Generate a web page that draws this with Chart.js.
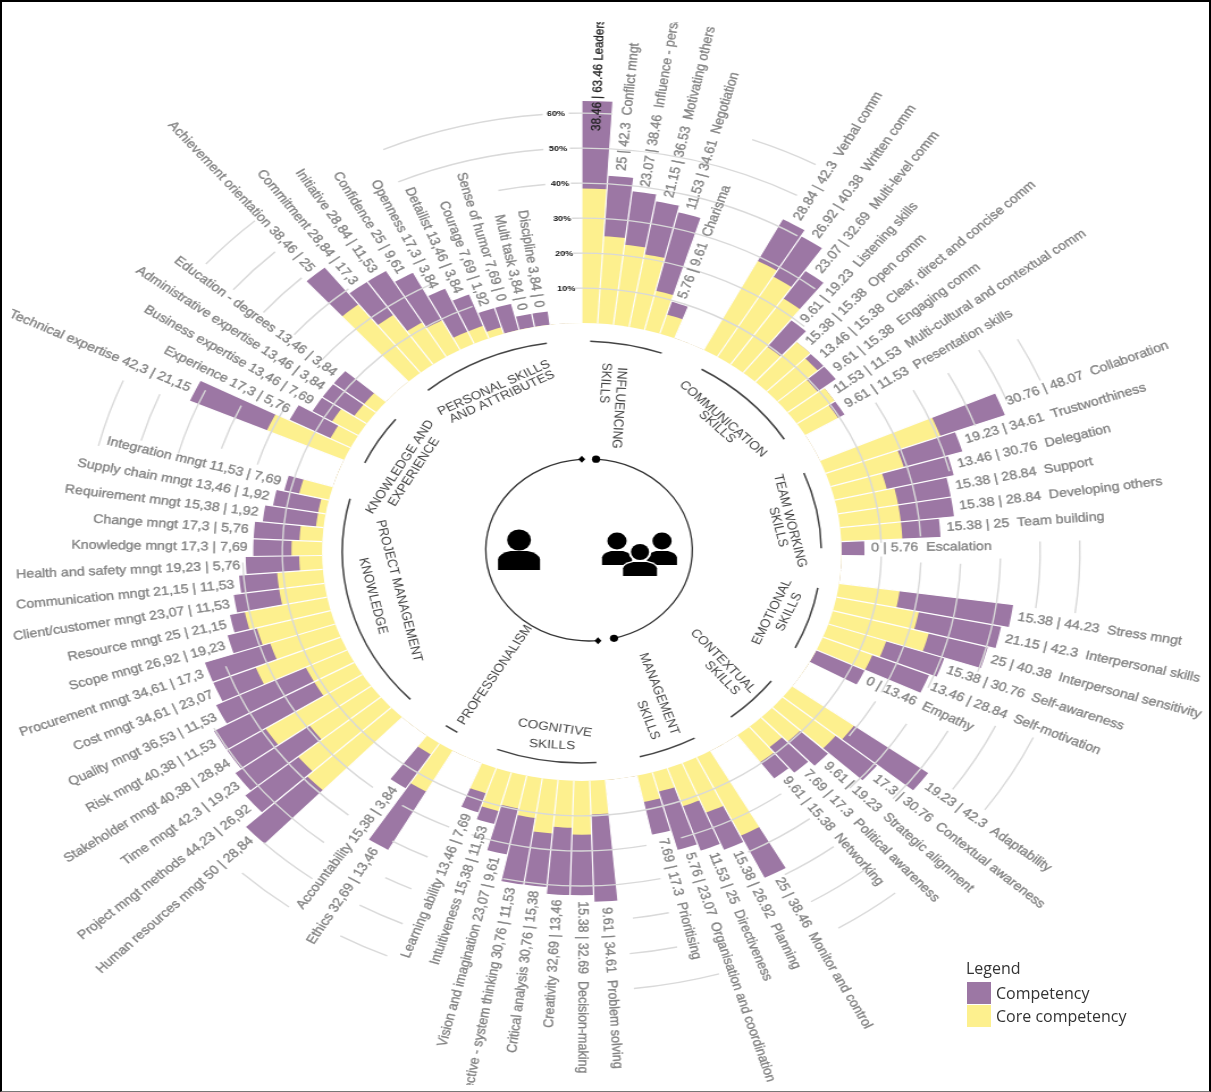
<!DOCTYPE html>
<html>
<head>
<meta charset="utf-8">
<title>Competency wheel</title>
<script src="https://cdn.jsdelivr.net/npm/chart.js@4"></script>
<style>
  html, body { margin: 0; padding: 0; background: #fff; }
  #page { position: relative; width: 1211px; height: 1092px; overflow: hidden; background: #fff; }
  #frame { position: absolute; left: 0; top: 0; width: 1211px; height: 1092px; box-sizing: border-box; border-style: solid; border-color: #000 #000 #777 #000; border-width: 2px 2px 1px 2px; pointer-events: none; }
  /* the source picture is wider than it is tall and soft, so the whole wheel gets stretched */
  #wheel { position: absolute; left: 0; top: 0; transform-origin: 0 0; transform: translateX(-47px) scaleX(1.135); filter: blur(0.45px); }
  #legend { position: absolute; left: 966px; top: 957px; font: 16px "Open Sans", sans-serif; color: #333; filter: blur(0.3px); }
  #legend .row { position: absolute; left: 1px; width: 190px; height: 22px; line-height: 22px; padding-left: 29px; white-space: nowrap; }
  #legend .swatch { position: absolute; left: 0; top: 0; width: 24px; height: 22px; }
</style>
</head>
<body>
<div id="page">
  <canvas id="wheel" width="1108" height="1092"></canvas>
  <div id="legend">
    <div>Legend</div>
    <div class="row" style="top:25px"><span class="swatch" style="background:#9c77a4"></span>Competency</div>
    <div class="row" style="top:48px"><span class="swatch" style="background:#fdf08e"></span>Core competency</div>
  </div>
  <div id="frame"></div>
</div>
<script>
// bars clockwise from the top, group by group
const categories = [
  'Leadership', 'Conflict mngt', 'Influence - persuasion', 'Motivating others', 'Negotiation', 'Charisma',
  'Verbal comm', 'Written comm', 'Multi-level comm', 'Listening skills', 'Open comm', 'Clear, direct and concise comm', 'Engaging comm', 'Multi-cultural and contextual comm', 'Presentation skills',
  'Collaboration', 'Trustworthiness', 'Delegation', 'Support', 'Developing others', 'Team building', 'Escalation',
  'Stress mngt', 'Interpersonal skills', 'Interpersonal sensitivity', 'Self-awareness', 'Self-motivation', 'Empathy',
  'Adaptability', 'Contextual awareness', 'Strategic alignment', 'Political awareness', 'Networking',
  'Monitor and control', 'Planning', 'Directiveness', 'Organisation and coordination', 'Prioritising',
  'Problem solving', 'Decision-making', 'Creativity', 'Critical analysis', 'Perspective - system thinking', 'Vision and imagination', 'Intuitiveness', 'Learning ability',
  'Ethics', 'Accountability',
  'Human resources mngt', 'Project mngt methods', 'Time mngt', 'Stakeholder mngt', 'Risk mngt', 'Quality mngt', 'Cost mngt', 'Procurement mngt', 'Scope mngt', 'Resource mngt', 'Client/customer mngt', 'Communication mngt', 'Health and safety mngt', 'Knowledge mngt', 'Change mngt', 'Requirement mngt', 'Supply chain mngt', 'Integration mngt',
  'Technical expertise', 'Experience', 'Business expertise', 'Administrative expertise', 'Education - degrees',
  'Achievement orientation', 'Commitment', 'Initiative', 'Confidence', 'Openness', 'Detailist', 'Courage', 'Sense of humor', 'Multi task', 'Discipline'
];
const coreValues = [
  38.46, 25, 23.07, 21.15, 11.53, 5.76,
  28.84, 26.92, 23.07, 9.61, 15.38, 13.46, 9.61, 11.53, 9.61,
  30.76, 19.23, 13.46, 15.38, 15.38, 15.38, 0,
  15.38, 21.15, 25, 15.38, 13.46, 0,
  19.23, 17.3, 9.61, 7.69, 9.61,
  25, 15.38, 11.53, 5.76, 7.69,
  9.61, 15.38, 13.46, 15.38, 11.53, 9.61, 11.53, 7.69,
  13.46, 3.84,
  28.84, 26.92, 19.23, 28.84, 11.53, 11.53, 23.07, 17.3, 19.23, 21.15, 11.53, 11.53, 5.76, 7.69, 5.76, 1.92, 1.92, 7.69,
  21.15, 5.76, 7.69, 3.84, 3.84,
  25, 17.3, 11.53, 9.61, 3.84, 3.84, 1.92, 0, 0, 0
];
const totalValues = [
  63.46, 42.3, 38.46, 36.53, 34.61, 9.61,
  42.3, 40.38, 32.69, 19.23, 15.38, 15.38, 15.38, 11.53, 11.53,
  48.07, 34.61, 30.76, 28.84, 28.84, 25, 5.76,
  44.23, 42.3, 40.38, 30.76, 28.84, 13.46,
  42.3, 30.76, 19.23, 17.3, 15.38,
  38.46, 26.92, 25, 23.07, 17.3,
  34.61, 32.69, 32.69, 30.76, 30.76, 23.07, 15.38, 13.46,
  32.69, 15.38,
  50, 44.23, 42.3, 40.38, 40.38, 36.53, 34.61, 34.61, 26.92, 25, 23.07, 21.15, 19.23, 17.3, 17.3, 15.38, 13.46, 11.53,
  42.3, 17.3, 13.46, 13.46, 13.46,
  38.46, 28.84, 28.84, 25, 17.3, 13.46, 7.69, 7.69, 3.84, 3.84
];
const groupSizes = [6, 9, 7, 6, 5, 5, 8, 2, 18, 5, 10];
const tickValues = [10, 20, 30, 40, 50, 60];
const seriesNames = ['Competency', 'Core competency'];

const STRETCH = 1.135, SHIFT = 47;
const GAP_SLOTS = 2;
const PURPLE = '#9c77a4', YELLOW = '#fdf08e';

// every group is followed by two empty slots
const labels = [], coreSlots = [], totalSlots = [], barSlot = [];
let cursor = 0;
groupSizes.forEach(size => {
  for (let i = 0; i < size; i++) {
    barSlot.push(labels.length);
    labels.push(categories[cursor]);
    coreSlots.push(coreValues[cursor]);
    totalSlots.push(totalValues[cursor]);
    cursor++;
  }
  for (let g = 0; g < GAP_SLOTS; g++) {
    labels.push('');
    coreSlots.push(0);
    totalSlots.push(0);
  }
});

// the rings are only visible in stretches, degrees clockwise from the top
const ringStretches = {
  10: [[-1.5, 88], [91, 338.6]],
  20: [[-1.5, 41], [60, 87], [92, 118], [120, 128], [144, 163], [169, 199], [203, 212], [218, 268], [287, 299], [310, 334]],
  30: [[-1.5, 38], [61, 76], [92, 114], [121, 135], [143, 154], [168, 192], [204, 210], [218, 250], [288, 296], [310.6, 322]],
  40: [[-1.5, 31], [61, 70], [91, 109], [119, 132], [143, 151], [168, 173], [204, 208], [218, 241.5], [285.5, 296], [310.5, 318], [348.5, 355]],
  50: [[-1.5, 28], [60, 68], [88.5, 98], [115.5, 126], [142, 150], [168, 174], [203, 209], [216, 224], [286, 293], [310.5, 318], [336.4, 355.2]],
  60: [[-1.5, 3.5], [20, 28], [61, 67], [88.5, 98], [115, 126], [141, 149], [164, 174], [203, 209], [216, 223], [284, 293], [311, 319], [336.5, 355.5]]
};

// group captions in picture coordinates
const groupArcs = [
  [2, 19.5], [30, 57.7], [68, 89], [99.8, 117], [127.7, 141.5], [151.9, 166],
  [176.5, 200.7], [211.3, 214.6], [225.7, 284.6], [295, 309], [320, 351.6]
];
const groupCaptions = [
  ['INFLUENCING', 619, 408, 94], ['SKILLS', 605, 383, 94],
  ['COMMUNICATION', 723, 419, 41], ['SKILLS', 717, 427, 41],
  ['TEAM WORKING', 790, 521, 75], ['SKILLS', 778, 527, 75],
  ['EMOTIONAL', 772, 612, -63], ['SKILLS', 789, 612, -63],
  ['CONTEXTUAL', 723, 661, 45], ['SKILLS', 722, 678, 45],
  ['MANAGEMENT', 659, 694, 68], ['SKILLS', 648, 720, 68],
  ['COGNITIVE', 555, 728, 8], ['SKILLS', 552, 745, 3],
  ['PROFESSIONALISM', 495, 675, -55],
  ['PROJECT MANAGEMENT', 399, 591, 75], ['KNOWLEDGE', 373, 596, 75],
  ['KNOWLEDGE AND', 400, 467, -56], ['EXPERIENCE', 414, 472, -56],
  ['PERSONAL SKILLS', 494, 388, -24], ['AND ATTRIBUTES', 502, 397, -24]
];

const imgX = x => (x + SHIFT) / STRETCH;
const imgAngle = deg => {
  const a = deg * Math.PI / 180;
  return Math.atan2(Math.sin(a), Math.cos(a) / STRETCH);
};
const clockAngle = deg => (deg - 90) * Math.PI / 180;
const commaNum = v => String(v).replace('.', ',');

function drawPerson(ctx, x, headY, headR, top, bottom, halfW) {
  ctx.beginPath();
  ctx.arc(imgX(x), headY, headR, 0, Math.PI * 2);
  ctx.fill();
  const l = imgX(x - halfW), r = imgX(x + halfW), c = imgX(x);
  const mid = top + (bottom - top) * 0.45;
  ctx.beginPath();
  ctx.moveTo(l, bottom);
  ctx.lineTo(l, mid);
  ctx.quadraticCurveTo(l + 1, top + 2, c - (c - l) * 0.4, top);
  ctx.lineTo(c + (r - c) * 0.4, top);
  ctx.quadraticCurveTo(r - 1, top + 2, r, mid);
  ctx.lineTo(r, bottom);
  ctx.closePath();
  ctx.fill();
}

const wheelPlugin = {
  id: 'wheel',
  afterDatasetsDraw(chart) {
    const ctx = chart.ctx, scale = chart.scales.r;
    const inner = scale.getDistanceFromCenterForValue(0);
    const outer = scale.getDistanceFromCenterForValue(66);
    ctx.save();
    // white lines between the bars
    ctx.strokeStyle = '#fff';
    ctx.lineWidth = 1.2;
    labels.forEach((_, i) => {
      const a = scale.getPointPosition(i, inner), b = scale.getPointPosition(i, outer);
      ctx.beginPath();
      ctx.moveTo(a.x, a.y);
      ctx.lineTo(b.x, b.y);
      ctx.stroke();
    });
    // bars start at the zero ring, not at the centre
    ctx.fillStyle = '#fff';
    ctx.beginPath();
    ctx.arc(scale.xCenter, scale.yCenter, inner, 0, Math.PI * 2);
    ctx.fill();
    ctx.restore();
  },
  afterDraw(chart) {
    const ctx = chart.ctx, scale = chart.scales.r;
    const cx = scale.xCenter, cy = scale.yCenter;
    const step = 2 * Math.PI / labels.length;
    ctx.save();

    // rings
    ctx.strokeStyle = '#d9d9d9';
    ctx.lineWidth = 1.4;
    tickValues.forEach(v => {
      const r = scale.getDistanceFromCenterForValue(v);
      ringStretches[v].forEach(([from, to]) => {
        ctx.beginPath();
        ctx.arc(cx, cy, r, clockAngle(from), clockAngle(to));
        ctx.stroke();
      });
    });

    // tick labels
    ctx.fillStyle = '#111';
    ctx.font = 'bold 8px "Liberation Sans"';
    ctx.textAlign = 'center';
    ctx.textBaseline = 'middle';
    tickValues.forEach(v => {
      const p = scale.getPointPosition(0, scale.getDistanceFromCenterForValue(v), -0.052);
      ctx.fillText(v + '%', p.x, p.y);
    });

    // bar labels, cut off by the picture edge
    ctx.save();
    ctx.beginPath();
    ctx.rect(0, 22, chart.width, 1063);
    ctx.clip();
    ctx.textBaseline = 'middle';
    ctx.lineWidth = 0.3;
    categories.forEach((name, i) => {
      const slot = barSlot[i];
      const first = i === 0;
      const p0 = scale.getPointPosition(slot, 10, step / 2);
      const flip = p0.angle + Math.PI / 2 > Math.PI * 1.01;
      const start = first ? scale.getDistanceFromCenterForValue(55) : scale.getDistanceFromCenterForValue(totalValues[i]) + (flip ? 5 : 6);
      const p = scale.getPointPosition(slot, start, step / 2);
      ctx.save();
      ctx.translate(p.x, p.y);
      ctx.fillStyle = ctx.strokeStyle = first ? '#222' : '#808080';
      ctx.font = first ? '11.5px "Liberation Sans"' : '12.5px "Liberation Sans"';
      let text;
      if (flip) {
        ctx.rotate(p.angle + Math.PI);
        ctx.textAlign = 'right';
        text = name + ' ' + commaNum(totalValues[i]) + ' | ' + commaNum(coreValues[i]);
      } else {
        ctx.rotate(p.angle);
        ctx.textAlign = 'left';
        text = coreValues[i] + ' | ' + totalValues[i] + (first ? ' ' : '  ') + name;
      }
      ctx.fillText(text, 0, 0);
      ctx.strokeText(text, 0, 0);
      ctx.restore();
    });
    ctx.restore();

    // group arcs and captions
    ctx.strokeStyle = '#444';
    ctx.lineWidth = 1.5;
    groupArcs.forEach(([from, to]) => {
      ctx.beginPath();
      ctx.arc(cx, cy, 211, clockAngle(from), clockAngle(to));
      ctx.stroke();
    });
    ctx.fillStyle = '#444';
    ctx.font = '12px "Liberation Sans"';
    ctx.textAlign = 'center';
    groupCaptions.forEach(([text, x, y, deg]) => {
      ctx.save();
      ctx.translate(imgX(x), y);
      ctx.rotate(imgAngle(deg));
      ctx.fillText(text, 0, 0);
      ctx.restore();
    });

    // centre circle with its end marks
    const ccx = imgX(589), ccy = 550, ccr = 91;
    ctx.strokeStyle = '#333';
    ctx.lineWidth = 1.3;
    ctx.beginPath();
    ctx.arc(ccx, ccy, ccr, clockAngle(3.9), clockAngle(166));
    ctx.stroke();
    ctx.beginPath();
    ctx.arc(ccx, ccy, ccr, clockAngle(175), clockAngle(356));
    ctx.stroke();
    ctx.fillStyle = '#000';
    [3.9, 166].forEach(d => {
      ctx.beginPath();
      ctx.arc(ccx + ccr * Math.cos(clockAngle(d)), ccy + ccr * Math.sin(clockAngle(d)), 3.6, 0, Math.PI * 2);
      ctx.fill();
    });
    [175, 356].forEach(d => {
      const x = ccx + ccr * Math.cos(clockAngle(d)), y = ccy + ccr * Math.sin(clockAngle(d));
      ctx.beginPath();
      ctx.moveTo(x, y - 3.5);
      ctx.lineTo(x + 3, y);
      ctx.lineTo(x, y + 3.5);
      ctx.lineTo(x - 3, y);
      ctx.closePath();
      ctx.fill();
    });

    // person and team icons
    drawPerson(ctx, 519, 540, 10.5, 551, 570, 21);
    drawPerson(ctx, 617, 541, 8.5, 551, 565, 15);
    drawPerson(ctx, 662, 541, 8.5, 551, 565, 15);
    ctx.fillStyle = '#fff';
    drawPerson(ctx, 640, 552, 10, 561, 578, 19);
    ctx.fillStyle = '#000';
    drawPerson(ctx, 640, 552, 8, 562, 576, 17);
    ctx.restore();
  }
};

new Chart(document.getElementById('wheel'), {
  type: 'polarArea',
  data: {
    labels: labels,
    datasets: [
      // the first dataset is painted last, so core sits on top of the total
      { label: seriesNames[1], data: coreSlots, backgroundColor: YELLOW, borderWidth: 0 },
      { label: seriesNames[0], data: totalSlots, backgroundColor: PURPLE, borderWidth: 0 }
    ]
  },
  options: {
    responsive: false,
    animation: false,
    layout: { padding: { top: 12 } },
    plugins: { legend: { display: false }, tooltip: { enabled: false } },
    scales: {
      r: {
        min: -65.4,
        max: 88.9,
        ticks: { display: false, stepSize: 10 },
        grid: { display: false },
        angleLines: { display: false },
        pointLabels: { display: false }
      }
    }
  },
  plugins: [wheelPlugin]
});
</script>
</body>
</html>
